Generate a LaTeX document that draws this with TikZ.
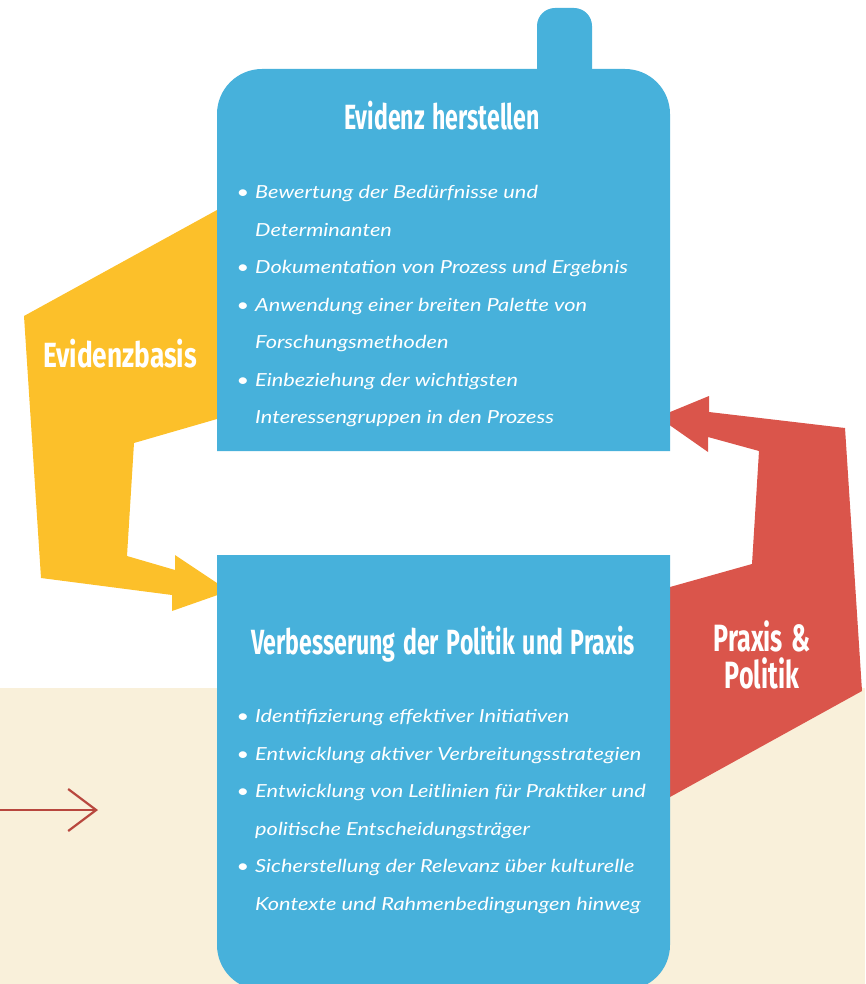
\documentclass[tikz,border=0pt]{standalone}
\usepackage{fontspec}
\usepackage{tikz}
\usetikzlibrary{arrows.meta}
\newfontfamily\headfont{Fira Sans}[FakeStretch=0.66, WordSpace=1.4]
\newfontfamily\sidefont{Fira Sans}[FakeStretch=0.75]
\newfontfamily\bodyfont{Lato}[FakeStretch=1.21]
\definecolor{boxblue}{HTML}{47B1DB}
\definecolor{basisyellow}{HTML}{FCC02A}
\definecolor{praxisred}{HTML}{DA554B}
\definecolor{bgbeige}{HTML}{F9F0DA}
\definecolor{linered}{HTML}{B8473E}
\newcommand\itembullet{\llap{•\hspace{6pt}}}

\begin{document}
\begin{tikzpicture}[x=1pt, y=-1pt,
		head/.style={text=white, inner sep=0pt, anchor=base,
			font={\headfont\bfseries\fontsize{35}{37}\selectfont}},
		items/.style={text=white, inner sep=0pt, align=left, anchor=north west,
			font={\bodyfont\itshape\fontsize{18}{37.5}\selectfont}}]
					\useasboundingbox (0,0) rectangle (865,984);
					\fill[bgbeige] (0,688) rectangle (865,984);

					% thin arrow on the left
					\coordinate (L1) at (0,810);
					\coordinate (L2) at (98,810);
					\draw[linered, line width=2.2pt, -{Straight Barb[length=28pt, width=42pt]}] (L1)--(L2);

					% Evidenzbasis arrow
					\coordinate (Y1) at (217,210);
					\coordinate (Y2) at (24,316);
					\coordinate (Y3) at (41,578);
					\coordinate (Y4) at (172,595);
					\coordinate (Y5) at (172,611);
					\coordinate (Y6) at (229,591);
					\coordinate (Y7) at (175,555);
					\coordinate (Y8) at (175,570);
					\coordinate (Y9) at (127,556);
					\coordinate (Y10) at (134,443);
					\coordinate (Y11) at (217,419);
					\fill[basisyellow] (Y1)--(Y2)--(Y3)--(Y4)--(Y5)--(Y6)--(Y7)--(Y8)--(Y9)--(Y10)--(Y11)--cycle;

					% Praxis arrow
					\coordinate (R1) at (658,417);
					\coordinate (R2) at (709,396);
					\coordinate (R3) at (709,412);
					\coordinate (R4) at (845,428);
					\coordinate (R5) at (862,691);
					\coordinate (R6) at (670,797);
					\coordinate (R7) at (670,587);
					\coordinate (R8) at (752,564);
					\coordinate (R9) at (759,451);
					\coordinate (R10) at (708,437);
					\coordinate (R11) at (708,452);
					\fill[praxisred] (R1)--(R2)--(R3)--(R4)--(R5)--(R6)--(R7)--(R8)--(R9)--(R10)--(R11)--cycle;

					% boxes
					\fill[boxblue] (537,75) [rounded corners=18pt] -- (537,8) -- (592,8) [sharp corners] -- (592,75) -- cycle;
					\fill[boxblue] (217,451) [rounded corners=45pt] -- (217,69) -- (670,69) [sharp corners] -- (670,451) -- cycle;
					\fill[boxblue] (217,555) [rounded corners=45pt] -- (217,990) -- (670,990) [sharp corners] -- (670,555) -- cycle;

					\node[head] (evidenz) at (442,130) {Evidenz herstellen};
					\node[head] (politik) at (443,654) {Verbesserung der Politik und Praxis};
					\node[head, font={\sidefont\bfseries\fontsize{35}{37}\selectfont}] (basis) at (120,367) {Evidenzbasis};
					\node[head, anchor=north, align=center, font={\headfont\bfseries\fontsize{38}{37}\selectfont}] (praxis) at (762,620) {Praxis \&\\Politik};

					\node[items] (evidenzlist) at (255,185.5) {\itembullet Bewertung der Bedürfnisse und\\
						Determinanten\\
						\itembullet Dokumentation von Prozess und Ergebnis\\
						\itembullet Anwendung einer breiten Palette von\\
						Forschungsmethoden\\
						\itembullet Einbeziehung der wichtigsten\\
						Interessengruppen in den Prozess};
					\node[items] (politiklist) at (255,709.5) {\itembullet Identifizierung effektiver Initiativen\\
						\itembullet Entwicklung aktiver Verbreitungsstrategien\\
						\itembullet Entwicklung von Leitlinien für Praktiker und\\
						politische Entscheidungsträger\\
						\itembullet Sicherstellung der Relevanz über kulturelle\\
						Kontexte und Rahmenbedingungen hinweg};
				\end{tikzpicture}
\end{document}
